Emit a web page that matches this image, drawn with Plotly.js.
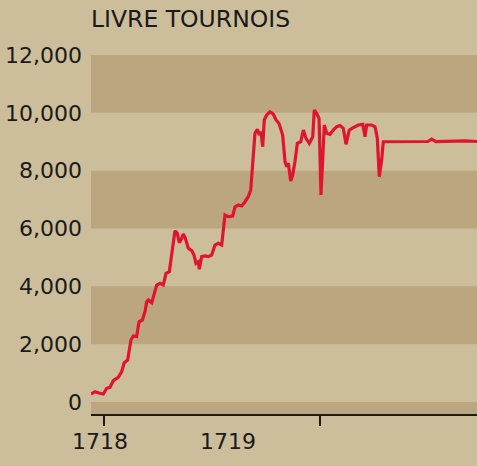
<!DOCTYPE html>
<html>
<head>
<meta charset="utf-8">
<script src="https://cdn.plot.ly/plotly-3.0.1.min.js"></script>
<style>html,body{margin:0;padding:0;background:#CDBE9B;}#chart{width:477px;height:466px;}</style>
</head>
<body>
<div id="chart"></div>
<script>
// x: months since January 1718
const months = [-1.26,-0.87,-0.39,-0.07,0.26,0.58,0.90,1.38,1.71,1.96,2.29,2.61,2.84,3.16,3.39,3.71,3.97,4.13,4.29,4.62,
  5.10,5.42,5.74,6.00,6.32,6.64,6.87,7.09,7.29,7.52,7.67,7.84,8.16,8.49,8.71,8.90,9.13,9.22,9.45,9.77,
  10.09,10.42,10.74,11.06,11.39,11.71,12.03,12.45,12.68,13.00,13.33,13.65,13.96,14.20,14.39,14.61,14.84,15.03,15.19,15.36,
  15.51,15.74,16.06,16.38,16.65,16.94,17.29,17.52,17.68,17.84,18.07,18.26,18.48,18.71,19.04,19.29,19.55,19.87,20.20,20.35,
  20.58,20.81,21.00,21.16,21.32,21.55,21.87,22.19,22.52,22.84,23.16,23.42,23.74,24.13,24.61,25.04,25.26,25.42,25.91,26.23,
  26.45,26.64,26.87,27.03,28.65,31.35,31.71,32.13,33.97,34.94,36.10];
const price = [277,356,301,277,474,508,737,854,1048,1359,1452,2144,2282,2265,2777,2835,3123,3468,3527,3434,
  4046,4105,4046,4450,4506,5370,5924,5834,5509,5661,5809,5695,5315,5232,5083,4796,4852,4589,5025,5049,
  5025,5083,5429,5488,5429,6466,6408,6432,6753,6812,6778,6926,7099,7331,8368,9292,9430,9233,9347,8828,
  9752,9924,10038,9959,9752,9630,9233,8310,8137,8254,7642,7850,8310,8946,9001,9406,9119,8946,9174,10097,
  9983,9810,7158,8310,9579,9292,9257,9406,9520,9561,9465,8911,9406,9485,9579,9603,9174,9579,9579,9520,
  9119,7791,8368,9001,9008,9008,9094,9008,9019,9032,9008];
const yTicks = [0,2000,4000,6000,8000,10000,12000];
const xTickMarks = [0, 20.9];
const yearLabelPos = [-0.39, 12];
const yearLabels = ['1718','1719'];
const bands = [[-415,0],[2000,4000],[6000,8000],[10000,12000]];

const light = '#CDBE9B', dark = '#BBA680', ink = '#1a1a1a';
const font = {family: 'DejaVu Sans', size: 22, color: ink};
const xr = [-1.258, 36.097];

const shapes = bands.map(b => ({type:'rect', xref:'paper', x0:0, x1:1, yref:'y', y0:b[0], y1:b[1],
  fillcolor: dark, line:{width:0}, layer:'below'}));

const data = [
  {x: months, y: price, type:'scatter', mode:'lines', line:{color:'#E1142F', width:3.2}, hoverinfo:'skip', showlegend:false},
  {x: [], y: [], xaxis:'x2', type:'scatter', mode:'lines', hoverinfo:'skip', showlegend:false}
];

const layout = {
  width: 477, height: 466,
  margin: {l:91, r:0, t:55, b:52},
  paper_bgcolor: light, plot_bgcolor: light,
  font: font,
  showlegend: false,
  shapes: shapes,
  title: {text:'LIVRE TOURNOIS', font:{family:'DejaVu Sans', size:23.5, color:ink},
    xref:'paper', x:0, xanchor:'left', yref:'container', y:1-19/466, yanchor:'middle'},
  yaxis: {range:[-415,12000], tickvals: yTicks, tickformat:',d', showgrid:false, zeroline:false,
    ticks:'', ticklabelstandoff: 8, tickfont: font, fixedrange:true},
  xaxis: {range: xr, tickvals: xTickMarks, ticktext: ['',''], ticks:'outside', ticklen:10, tickwidth:2,
    tickcolor: ink, showline:true, linecolor: ink, linewidth:2, showgrid:false, zeroline:false, fixedrange:true},
  xaxis2: {range: xr, overlaying:'x', anchor:'y', side:'bottom', tickvals: yearLabelPos, ticktext: yearLabels,
    ticks:'', showline:false, showgrid:false, zeroline:false, tickfont: font, ticklabelstandoff: 12, fixedrange:true}
};

Plotly.newPlot('chart', data, layout, {staticPlot:true, displayModeBar:false});
</script>
</body>
</html>
